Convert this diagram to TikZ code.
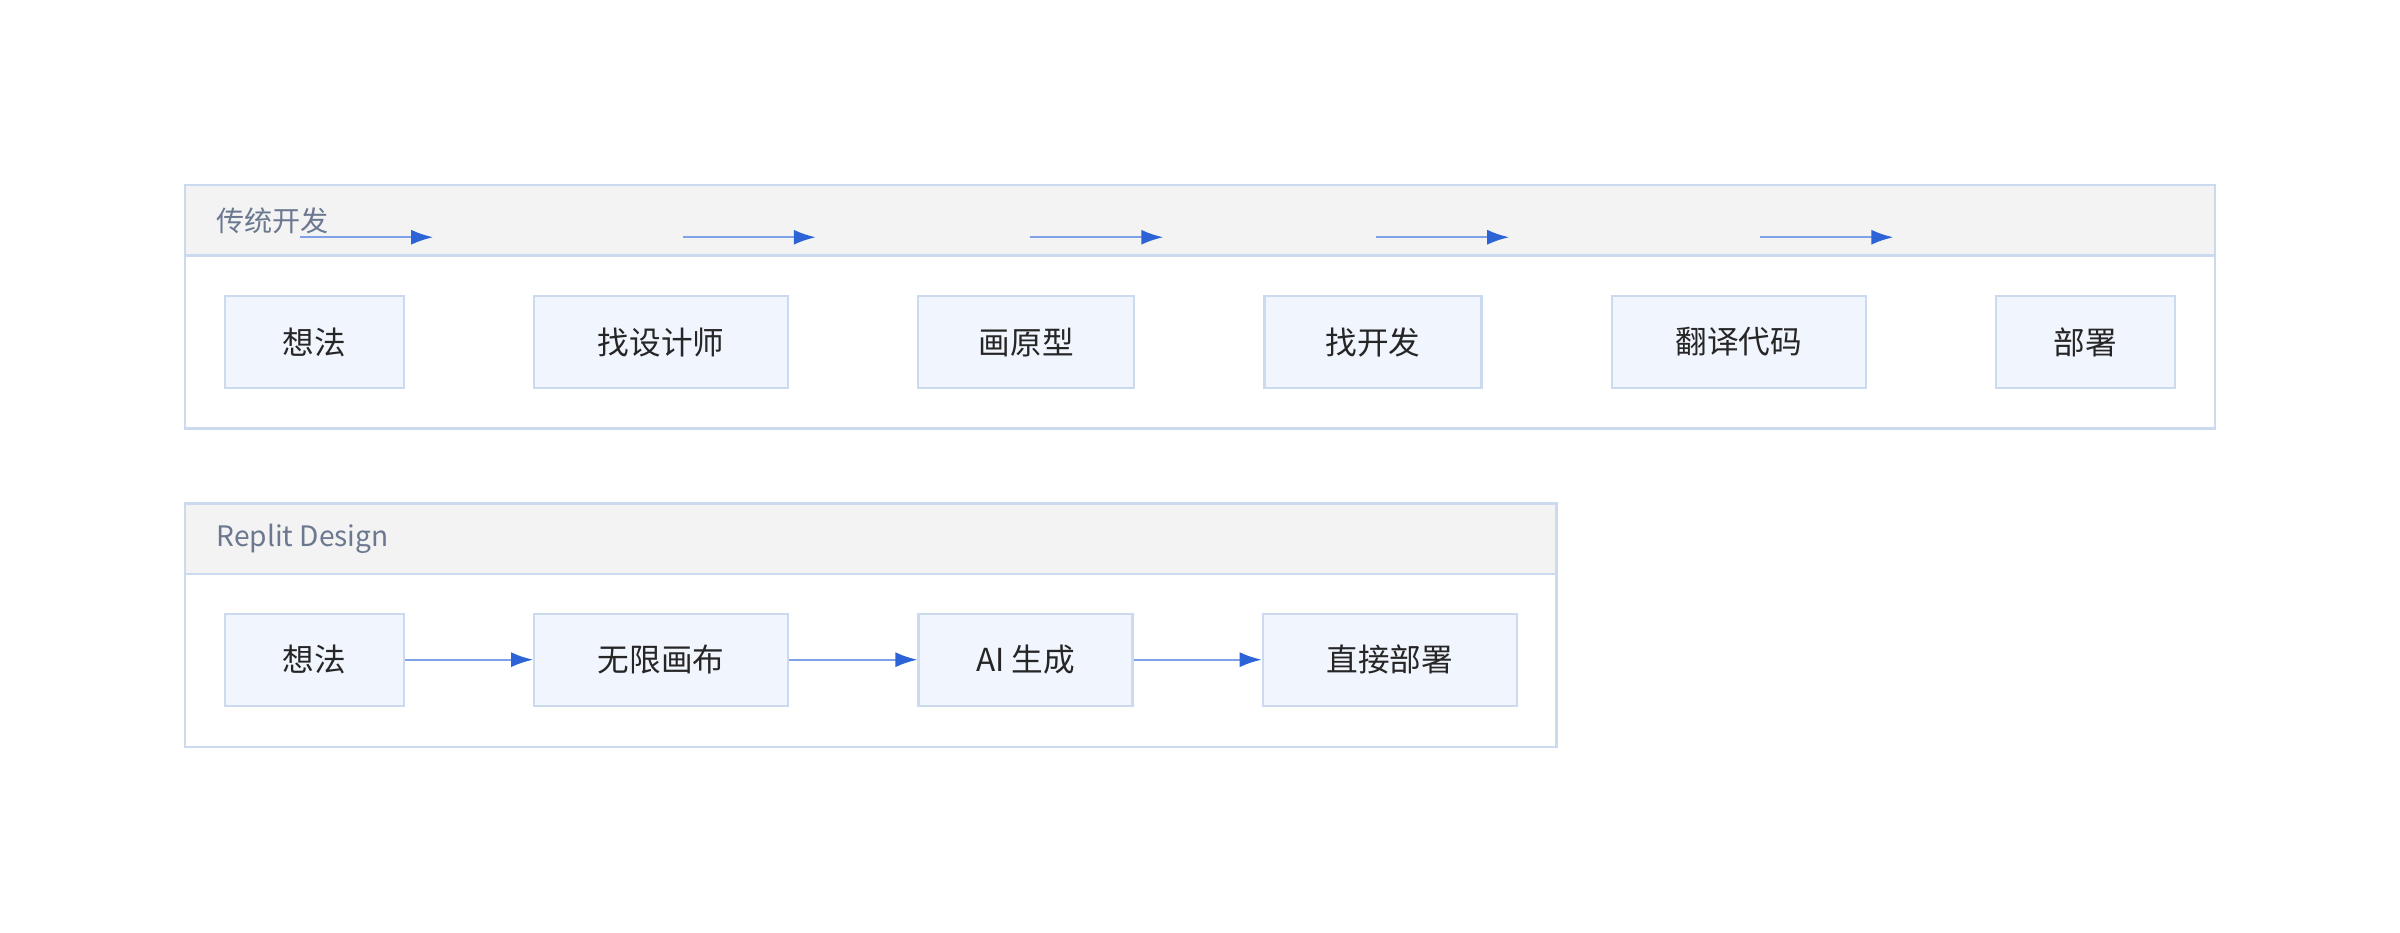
\documentclass[tikz,border=0pt]{standalone}
\usepackage{fontspec}
\setmainfont{Noto Sans CJK SC}
\usetikzlibrary{arrows.meta,positioning}
\definecolor{panelline}{HTML}{CCDAF0}
\definecolor{panelhead}{HTML}{F3F3F3}
\definecolor{stepfill}{HTML}{F1F5FD}
\definecolor{titlegray}{HTML}{6B7890}
\definecolor{flowline}{HTML}{7FA2E6}
\definecolor{flowhead}{HTML}{2C64D8}

\begin{document}
\begin{tikzpicture}[
    x=0.015306cm, y=-0.015306cm,
    stepbox/.style={rectangle, draw=panelline, fill=stepfill, line width=0.6pt, minimum height=0.918cm, inner sep=0pt, font=\fontsize{9}{11}\selectfont, text=black!85},
    panel/.style={draw=panelline, line width=0.7pt},
    title/.style={anchor=west, inner sep=0pt, font=\fontsize{8}{10}\selectfont, text=titlegray},
    flow/.style={draw=flowline, line width=0.6pt, -{Latex[length=2.2mm, width=1.5mm, color=flowhead]}},
]
    \useasboundingbox (0,0) rectangle (1568,609);

    % traditional development
    \fill[panelhead] (121,121) rectangle (1447,167);
    \draw[panel] (121,121) rectangle (1447,280);
    \draw[panel] (121,167) -- (1447,167);
    \node[title] (oldtitle) at (141,144) {传统开发};
    \node[stepbox, minimum width=1.79cm] (idea1) at (205.5,223.5) {想法};
    \node[stepbox, minimum width=2.54cm] (designer) at (432,223.5) {找设计师};
    \node[stepbox, minimum width=2.16cm] (proto) at (670.5,223.5) {画原型};
    \node[stepbox, minimum width=2.17cm] (dev) at (897,223.5) {找开发};
    \node[stepbox, minimum width=2.54cm] (translate) at (1136,223.5) {翻译代码};
    \node[stepbox, minimum width=1.79cm] (deploy1) at (1362.5,223.5) {部署};
    % the arrows sit in the header band
    \foreach \a/\b in {196/283, 446/533, 673/760, 899/986, 1150/1237} {
        \coordinate (s\a) at (\a,155);
        \coordinate (e\a) at (\b,155);
        \draw[flow] (s\a) -- (e\a);
    }

    % replit design
    \fill[panelhead] (121,329) rectangle (1017,375);
    \draw[panel] (121,329) rectangle (1017,488);
    \draw[panel] (121,375) -- (1017,375);
    \node[title] (newtitle) at (141,352) {Replit Design};
    \node[stepbox, minimum width=1.79cm] (idea2) at (205.5,431) {想法};
    \node[stepbox, minimum width=2.54cm] (canvas) at (432,431) {无限画布};
    \node[stepbox, minimum width=2.14cm] (aigen) at (670,431) {AI 生成};
    \node[stepbox, minimum width=2.54cm] (deploy2) at (908,431) {直接部署};
    \draw[flow] (idea2) -- (canvas);
    \draw[flow] (canvas) -- (aigen);
    \draw[flow] (aigen) -- (deploy2);
\end{tikzpicture}
\end{document}
